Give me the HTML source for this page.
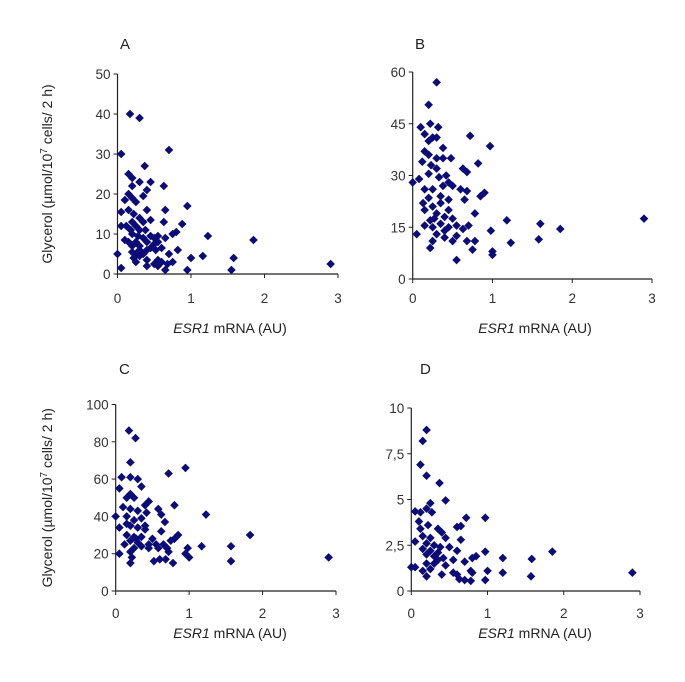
<!DOCTYPE html>
<html><head><meta charset="utf-8">
<style>
body{margin:0;background:#fff;}
svg{display:block;font-family:"Liberation Sans",Arial,sans-serif;}
</style></head>
<body>
<svg id="chart" width="685" height="682" viewBox="0 0 685 682"></svg>
<script>
const panelLabels = ["A","B","C","D"];
const yTicksA = [0,10,20,30,40,50];
const yTicksB = [0,15,30,45,60];
const yTicksC = [0,20,40,60,80,100];
const yTicksD = [0,2.5,5,7.5,10];
const yTickLabelsD = ["0","2,5","5","7,5","10"];
const xTicks = [0,1,2,3];
const dataA = [[0.17,40],[0.3,39],[0.05,30],[0.7,31],[0.37,27],[0.15,25],[0.2,24],[0.3,23],[0.45,23],[0.63,22],[0.2,22],[0.4,21],[0.35,19.5],[0.1,18.5],[0.15,20],[0.2,19],[0.25,18],[0.05,15.5],[0.15,16],[0.22,15],[0.4,16],[0.3,14],[0.65,16],[0.95,17],[0.2,13],[0.35,13],[0.45,13.5],[0.63,13],[0.05,12],[0.12,12],[0.25,12],[0.3,11],[0.38,11],[0.88,12.5],[0.8,10.5],[0.75,10],[0.2,10],[0.28,9.5],[0.35,9],[0.45,9.5],[0.5,9],[0.55,9.5],[0.65,9],[1.23,9.5],[1.85,8.5],[0.1,8.5],[0.15,8],[0.25,8],[0.4,8],[0.5,7.5],[0.55,8],[0.2,7],[0.3,7],[0.45,6.5],[0.6,6.5],[0.3,6],[0.4,6],[0.52,6],[0.82,6],[0.2,5.5],[0.25,5],[0.35,5],[0.7,5],[0,5],[1,4],[1.16,4.5],[1.58,4],[0.22,4],[0.4,3.5],[0.55,3.5],[0.6,3],[0.75,3],[0.25,3],[0.4,2],[0.55,2],[0.68,2.5],[0.05,1.5],[0.65,1],[0.95,1],[1.55,1],[2.9,2.5],[0.5,2.5],[0.3,4.5],[0.18,11]];
const dataB = [[0.3,57],[0.2,50.5],[0.22,45],[0.1,44],[0.32,44],[0.15,42],[0.25,41],[0.3,41],[0.72,41.5],[0.97,38.5],[0.38,38],[0.15,37],[0.2,36],[0.38,35],[0.48,35],[0.12,34],[0.23,33],[0.3,32],[0.82,33.5],[0.63,32],[0.68,31],[0.42,30],[0.33,29.5],[0.2,30.5],[0,28],[0.08,29],[0.45,28],[0.5,27],[0.38,27],[0.6,26],[0.68,25.5],[0.15,26],[0.25,26],[0.9,25],[0.85,24],[0.65,23],[0.35,24],[0.2,23.5],[0.13,22],[0.25,21],[0.35,22],[0.45,20],[0.15,20],[0.3,19],[0.4,18],[0.78,19],[0.5,17.5],[0.22,17],[0.35,16],[0.45,15],[0.55,15.5],[0.15,15.5],[0.25,15],[0.7,15.5],[0.63,14.5],[1.18,17],[1.6,16],[1.85,14.5],[2.9,17.5],[0.05,13],[0.3,13],[0.4,12],[0.55,12.5],[0.98,14],[0.68,11],[0.78,11],[1.58,11.5],[1.23,10.5],[0.22,9],[0.5,11],[0.75,8.5],[1,8],[1,7],[0.55,5.5],[0.25,11],[0.4,14],[0.45,23],[0.3,35],[0.2,40],[0.27,17.5]];
const dataC = [[0.18,86],[0.27,82],[0.2,69],[0.95,66],[0.72,63],[0.08,61],[0.2,61],[0.3,60],[0.35,56],[0.05,55],[0.2,52],[0.15,50],[0.25,50],[0.45,48],[0.4,46],[0.8,46],[0.1,45],[0.2,44],[0.3,43],[0.58,44],[0.42,42],[0.62,41],[0,40],[1.23,41],[0.15,40],[0.25,38],[0.35,39],[0.67,37],[0.05,34],[0.2,35],[0.3,34],[0.4,33],[0.62,32],[0.15,30],[0.25,29],[0.35,29],[0.5,28],[0.8,28],[0.85,30],[1.83,30],[0.2,27],[0.3,26],[0.45,25],[0.55,25],[0.65,25],[0.75,27],[0.12,25],[0.25,23],[0.35,24],[0.45,23],[0.58,23],[0.7,23],[0.98,23],[1.17,24],[1.57,24],[0.05,20],[0.2,21],[0.72,21],[0.95,20],[1,18],[0.22,18],[0.2,15],[0.52,16],[0.6,17],[0.68,17],[0.78,15],[1.57,16],[2.9,18],[0.28,28],[0.4,35],[0.15,36]];
const dataD = [[0.2,8.8],[0.15,8.2],[0.12,6.9],[0.2,6.3],[0.37,5.9],[0.45,4.95],[0.25,4.8],[0.05,4.35],[0.2,4.5],[0.27,4.3],[0.12,4.3],[0.72,4],[0.97,4],[0.1,3.8],[0.22,3.6],[0.35,3.4],[0.6,3.5],[0.65,3.55],[0.12,3.4],[0.4,3.2],[0.15,3],[0.25,2.9],[0.45,2.9],[0.05,2.7],[0.2,2.6],[0.3,2.5],[0.38,2.4],[0.5,2.4],[0.65,2.8],[0.15,2.3],[0.25,2.2],[0.35,2.1],[0.6,2.2],[0.97,2.15],[1.85,2.15],[0.2,2],[0.3,1.9],[0.42,1.8],[0.55,1.7],[0.7,1.6],[0.85,1.9],[0.8,1.8],[1.2,1.8],[1.58,1.75],[0,1.3],[0.05,1.3],[0.2,1.5],[0.3,1.5],[0.45,1.4],[0.55,1.0],[0.6,0.9],[0.8,1.0],[0.78,1.1],[1,1.1],[1.2,1.0],[2.9,1.0],[0.2,0.8],[0.4,0.9],[0.63,0.65],[0.7,0.6],[0.78,0.55],[0.97,0.6],[1.57,0.8],[0.25,1.2],[0.35,1.7],[0.15,1.1]];

const NS="http://www.w3.org/2000/svg";
const svg=document.getElementById('chart');
function mk(tag,attrs,parent){const e=document.createElementNS(NS,tag);for(const k in attrs)e.setAttribute(k,attrs[k]);(parent||svg).appendChild(e);return e;}

const panels=[
 {id:'a',data:dataA,yt:yTicksA,yl:yTicksA.map(String),ymax:50,x0:117.5,x3:338,y0:274,ytop:74,lx:120,ly:49,title:true,tx:230,ty:333,tky:303},
 {id:'b',data:dataB,yt:yTicksB,yl:yTicksB.map(String),ymax:60,x0:412.7,x3:652,y0:279,ytop:72,lx:415,ly:49,title:false,tx:535,ty:333,tky:303},
 {id:'c',data:dataC,yt:yTicksC,yl:yTicksC.map(String),ymax:100,x0:115.7,x3:336,y0:591,ytop:404.5,lx:119,ly:374,title:true,tx:230,ty:638,tky:618},
 {id:'d',data:dataD,yt:yTicksD,yl:yTickLabelsD,ymax:10,x0:411.3,x3:640,y0:591,ytop:408,lx:420,ly:374,title:false,tx:535,ty:638,tky:618}
];
panels.forEach((p,i)=>{
 const g=mk('g',{});
 
 
 const xs=v=>p.x0+(p.x3-p.x0)*v/3;
 const ys=v=>p.y0-(p.y0-p.ytop)*v/p.ymax;
 const lab=mk('text',{x:p.lx,y:p.ly,'font-size':15,fill:'#222'},g);lab.textContent=panelLabels[i];
 
 
 const ya=mk('line',{x1:p.x0,x2:p.x0,y1:p.ytop,y2:p.y0,stroke:'#222','stroke-width':1.2},g);
 
 
 const xa=mk('line',{x1:p.x0,x2:p.x3,y1:p.y0,y2:p.y0,stroke:'#222','stroke-width':1.2},g);
 
 
 p.yt.forEach((t,k)=>{
  mk('line',{x1:p.x0-4,x2:p.x0,y1:ys(t),y2:ys(t),stroke:'#222'},g);
  const tx=mk('text',{x:p.x0-7,y:ys(t)+5,'font-size':13.5,'text-anchor':'end',fill:'#333'},g);tx.textContent=p.yl[k];
  
  
 });
 xTicks.forEach(t=>{
  mk('line',{x1:xs(t),x2:xs(t),y1:p.y0,y2:p.y0+4,stroke:'#222'},g);
  const tx=mk('text',{x:xs(t),y:p.tky,'font-size':13.5,'text-anchor':'middle',fill:'#333'},g);tx.textContent=t;
  
  
 });
 const xt=mk('text',{x:p.tx,y:p.ty,'font-size':14,'text-anchor':'middle',fill:'#222'},g);
 xt.innerHTML='<tspan font-style="italic">ESR1</tspan> mRNA (AU)';
 
 
 if(p.title){
  const cy=(p.y0+p.ytop)/2;
  const yt=mk('text',{x:0,y:0,'font-size':14,'text-anchor':'middle',fill:'#222',transform:`translate(52,${cy}) rotate(-90)`},g);
  yt.innerHTML='Glycerol (µmol/10<tspan dy="-5" font-size="10">7</tspan><tspan dy="5"> cells/ 2 h)</tspan>';
  
  
 }
 p.data.forEach(d=>{
  const x=xs(d[0]),y=ys(d[1]),r=4.3;
  const pt=mk('path',{d:`M${x} ${y-r}L${x+r} ${y}L${x} ${y+r}L${x-r} ${y}Z`,fill:'#0c0c78'},g);
  
  
 });
});
</script>
</body></html>
